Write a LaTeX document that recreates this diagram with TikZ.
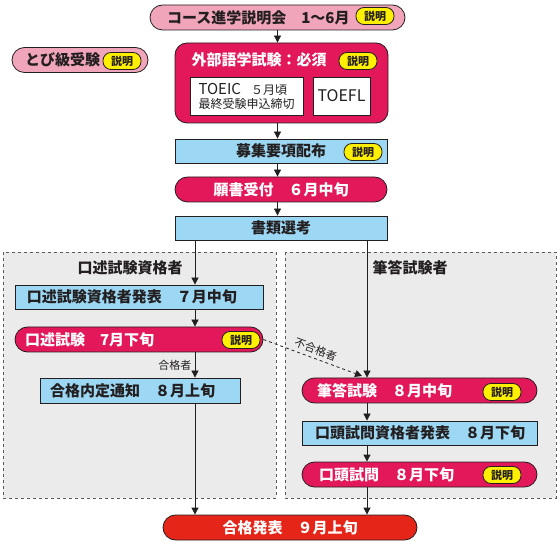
\documentclass[tikz,border=0pt]{standalone}
\usepackage{fontspec}
\setmainfont{Noto Sans CJK JP}
\usetikzlibrary{arrows.meta,positioning}
\definecolor{rose}{HTML}{F0A5BA}
\definecolor{crimson}{HTML}{E3185A}
\definecolor{sky}{HTML}{9CD7F3}
\definecolor{scarlet}{HTML}{E52518}
\definecolor{mist}{HTML}{EBEBEB}
\definecolor{lemon}{HTML}{FFEF00}
\definecolor{ink}{HTML}{231F20}

\begin{document}
\begin{tikzpicture}[x=1pt,y=-1pt, every node/.style={font=\bfseries\fontsize{15}{17}\selectfont,text=ink}, pill/.style={draw=ink,line width=.8pt,rounded corners=12.5pt,minimum height=25pt,inner ysep=0pt,align=left}, rosepill/.style={pill,fill=rose}, redpill/.style={pill,fill=crimson,text=white}, bar/.style={draw=ink,line width=.8pt,fill=sky,minimum height=24pt,inner ysep=0pt,align=left}, badge/.style={draw=ink,line width=.8pt,fill=lemon,rounded corners=8pt,minimum height=17pt,minimum width=38pt,inner sep=0pt,font=\bfseries\fontsize{11}{12}\selectfont}, whitebox/.style={draw=ink,line width=.8pt,fill=white,minimum height=38pt,inner sep=0pt,align=left}, zone/.style={draw=black!65,dashed,line width=.8pt,fill=mist}, note/.style={font=\fontsize{11}{12}\selectfont}, arr/.style={-{Triangle[length=7pt,width=7pt]},line width=.8pt,draw=ink}]
\useasboundingbox (0,0) rectangle (560,545);
% background zones
\draw[zone] (3,252) rectangle (276,498);
\draw[zone] (285,252) rectangle (556,498);
\coordinate (lcol) at (195,0);\coordinate (rcol) at (367,0);\coordinate (ngend) at (362,376);
% upper part
\node[rosepill,inner xsep=17pt,text width=221pt] (course) at (277.5,17.5) {コース進学説明会　1～6月};
\node[badge] (b1) at (375,16) {説明};
\node[rosepill,inner xsep=13pt,text width=110pt] (tobi) at (80,60) {とび級受験};
\node[badge] (b2) at (122,61) {説明};
\node[pill,fill=crimson,rounded corners=12pt,minimum width=213pt,minimum height=80pt] (ext) at (281.5,83) {};
\node[anchor=west,text=white] (exttitle) at (188,60) {外部語学試験：必須};
\node[badge] (b3) at (358,61) {説明};
\node[whitebox,minimum width=113pt] (toeic) at (246.5,96) {\mdseries TOEIC\hspace{10pt}{\fontsize{12}{14}\selectfont ５月頃}\\[-3pt]\mdseries\fontsize{12}{14}\selectfont 最終受験申込締切};
\node[whitebox,minimum width=57pt] (toefl) at (341.5,96) {\mdseries\fontsize{16}{18}\selectfont TOEFL};
\node[bar,minimum width=212pt] (bosyu) at (281,151) {募集要項配布};
\node[badge] (b4) at (363,152) {説明};
\node[redpill,minimum width=212pt] (gansho) at (281,189.5) {願書受付　６月中旬};
\node[bar,minimum width=212pt] (shorui) at (281,228) {書類選考};
% left column
\node (lhead) at (130,268) {口述試験資格者};
\node[bar,inner xsep=12pt,text width=224pt] (kh) at (139,297) {口述試験資格者発表　７月中旬};
\node[redpill,inner xsep=10pt,text width=228pt] (ks) at (139,339.5) {口述試験　7月下旬};
\node[badge] (b5) at (241,340) {説明};
\node[bar,inner xsep=10pt,text width=180pt,minimum height=25pt] (gn) at (140,390.5) {合格内定通知　８月上旬};
% right column
\node (rhead) at (410,268) {筆答試験者};
\node[redpill,inner xsep=15pt,text width=205pt] (hs) at (419.5,390.5) {筆答試験　８月中旬};
\node[badge] (b6) at (502,392) {説明};
\node[bar,inner xsep=13pt,text width=209pt] (ko) at (419.5,433) {口頭試問資格者発表　８月下旬};
\node[redpill,inner xsep=17pt,text width=201pt] (kt) at (419.5,474.5) {口頭試問　８月下旬};
\node[badge] (b7) at (502,475) {説明};
% result
\node[pill,fill=scarlet,text=white,minimum width=254pt] (final) at (290,527.5) {合格発表　９月上旬};
% connectors
\draw[arr] (course) -- (course |- ext.north);\draw[arr] (ext.south -| course) -- (bosyu.north -| course);\draw[arr] (bosyu.south -| course) -- (gansho.north -| course);\draw[arr] (gansho.south -| course) -- (shorui.north -| course);
\draw[arr] (shorui.south -| lcol) -- (kh.north -| lcol);\draw[arr] (kh.south -| lcol) -- (ks.north -| lcol);\draw[arr] (ks.south -| lcol) -- node[note,left]{合格者} (gn.north -| lcol);\draw[arr] (gn.south -| lcol) -- (final.north -| lcol);
\draw[arr] (shorui.south -| rcol) -- (hs.north -| rcol);\draw[arr] (hs.south -| rcol) -- (ko.north -| rcol);\draw[arr] (ko.south -| rcol) -- (kt.north -| rcol);\draw[arr] (kt.south -| rcol) -- (final.north -| rcol);
\draw[arr,dashed] (ks.east) -- node[note,above,sloped]{不合格者} (ngend);
\end{tikzpicture}
\end{document}
